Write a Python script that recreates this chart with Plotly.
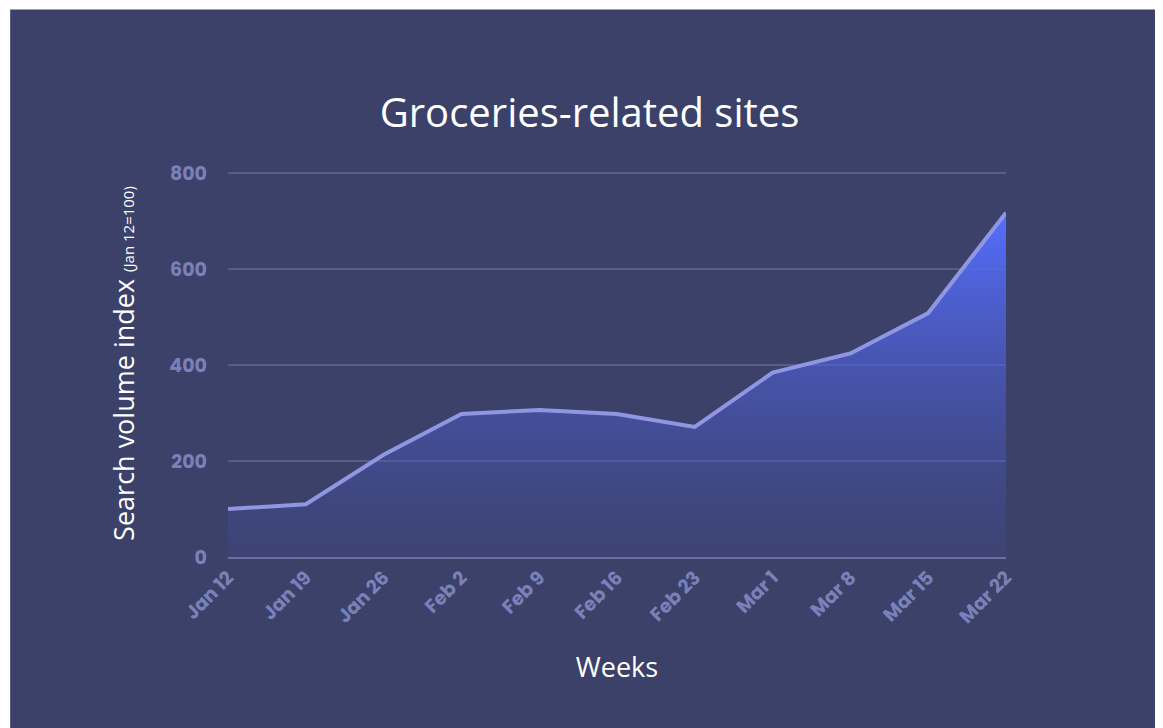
import plotly.graph_objects as go

weeks = ["Jan 12", "Jan 19", "Jan 26", "Feb 2", "Feb 9", "Feb 16", "Feb 23",
         "Mar 1", "Mar 8", "Mar 15", "Mar 22"]
index_vals = [100, 110, 213, 298, 306, 298, 271, 384, 424, 508, 717]

card = "#3b4169"
tick_col = "#7a80b8"

fig = go.Figure(go.Scatter(
    x=weeks, y=index_vals, mode="lines",
    line=dict(color="#9096e2", width=4),
    fill="tozeroy",
    fillgradient=dict(type="vertical",
                      colorscale=[[0, "rgba(70,80,170,0.15)"], [1, "rgba(85,110,255,1)"]]),
    hoverinfo="x+y",
))

fig.update_layout(
    width=1163, height=728,
    paper_bgcolor="white", plot_bgcolor="rgba(0,0,0,0)",
    margin=dict(l=220, r=165, t=162, b=179),
    showlegend=False,
    title=dict(text="Groceries-related sites", x=0.5, xanchor="center", y=0.875,
               font=dict(family="Open Sans", size=40, color="white")),
    xaxis=dict(showgrid=False, tickangle=-45, range=[0, 10],
               tickfont=dict(family="Poppins, Open Sans", size=19, color=tick_col, weight="bold"),
               showline=True, linecolor="#6b70a4", linewidth=2,
               title=dict(text="Weeks", standoff=30,
                          font=dict(family="Open Sans", size=27, color="white"))),
    yaxis=dict(range=[0, 806], tickvals=[0, 200, 400, 600, 800], gridcolor="#575c8c",
               gridwidth=1.5, zeroline=False, ticklabelstandoff=20,
               tickfont=dict(family="Poppins, Open Sans", size=19, color=tick_col, weight="bold"),
               title=dict(text="Search volume index <span style='font-size:15px'>(Jan 12=100)</span>",
                          standoff=26, font=dict(family="Open Sans", size=27, color="white"))),
    shapes=[dict(type="rect", xref="paper", yref="paper", layer="below",
                 x0=-0.28, x1=1.21, y0=-0.46, y1=1.415,
                 fillcolor=card, line=dict(width=0))],
)

fig.write_html("out.html")
